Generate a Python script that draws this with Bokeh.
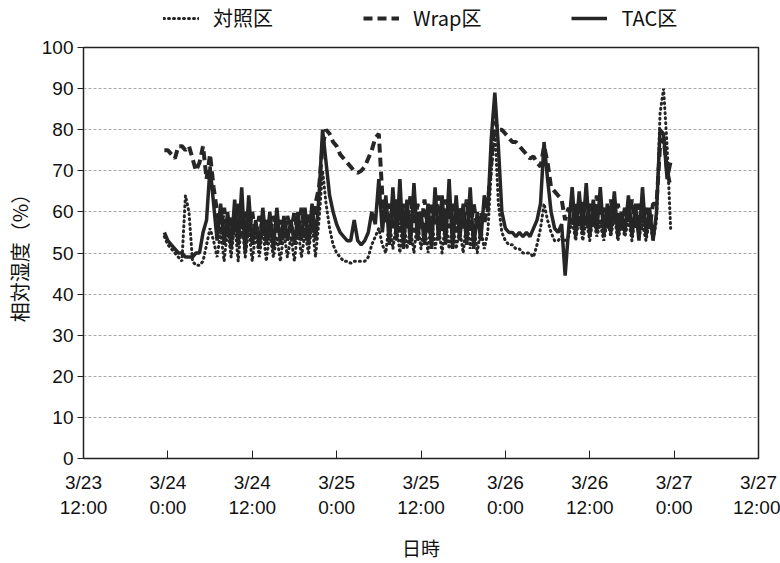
import pandas as pd
from bokeh.plotting import figure
from bokeh.layouts import column
from bokeh.models import Range1d, FixedTicker, LinearAxis, Legend, LegendItem
from bokeh.embed import file_html
from bokeh.resources import INLINE

# ---- data (relative humidity, %, 30-min readings from 3/23 23:30) ----
tac = [
    55, 53, 52, 51, 50, 50, 49, 49, 49, 50, 50, 55,
    58, 71, 62, 53, 62, 52, 60, 51, 63, 52, 66, 50,
    64, 52, 58, 51, 61, 52, 60, 51, 61, 52, 59, 53,
    58, 52, 60, 53, 61, 52, 62, 53, 64, 80, 72, 64,
    60, 57, 55, 54, 53, 53, 58, 53, 52, 53, 55, 60,
    57, 68, 55, 64, 52, 66, 53, 68, 51, 63, 52, 67,
    53, 60, 52, 62, 51, 66, 53, 64, 52, 68, 51, 64,
    53, 62, 52, 66, 51, 60, 53, 64, 60, 78, 89, 76,
    60, 56, 55, 55, 54, 55, 54, 55, 54, 56, 58, 62,
    77, 68, 60, 56, 55, 57, 44.5, 56, 66, 54, 65, 55,
    67, 54, 63, 55, 66, 54, 62, 55, 65, 54, 60, 55,
    64, 54, 62, 53, 66, 54, 61, 53, 60, 80, 79, 68,
    72,
]
wrap = [
    75, 75, 74, 73, 76, 76, 75, 76, 73, 70, 72, 76,
    68, 74, 66, 60, 55, 61, 54, 59, 55, 62, 54, 60,
    55, 60, 54, 59, 55, 58, 54, 59, 55, 58, 54, 59,
    55, 60, 54, 61, 55, 60, 56, 62, 66, 76, 80, 79,
    77, 76, 74, 73, 72, 71, 70, 69.5, 70, 71, 73, 75,
    78, 79, 64, 57, 62, 56, 63, 55, 62, 56, 64, 55,
    62, 56, 63, 55, 62, 57, 64, 55, 63, 56, 62, 55,
    61, 56, 63, 55, 62, 56, 60, 57, 62, 72, 82, 80,
    80, 79, 78, 77, 77, 76, 75, 74, 73, 73.5, 72, 71,
    76, 72, 66, 65, 64, 63, 58, 61, 57, 62, 56, 63,
    57, 62, 56, 64, 57, 61, 56, 63, 57, 62, 56, 61,
    57, 63, 56, 62, 57, 61, 56, 62, 62, 76, 78, 70,
    66,
]
ctrl = [
    54, 52, 51, 50, 49, 48, 64, 60, 48, 47, 47, 48,
    52, 56, 53, 49, 55, 48, 56, 49, 57, 48, 58, 49,
    56, 48, 55, 49, 56, 48, 55, 49, 54, 48, 55, 49,
    54, 48, 56, 49, 55, 50, 57, 49, 58, 70, 62, 56,
    52, 50, 49, 48, 48, 47.5, 48, 48, 48, 48, 49, 52,
    54, 56, 52, 50, 58, 51, 57, 50, 59, 51, 56, 50,
    58, 51, 57, 50, 59, 51, 56, 50, 58, 51, 57, 51,
    56, 50, 58, 51, 57, 50, 56, 51, 55, 70, 80, 62,
    55, 53, 52, 52, 51, 51, 50, 50, 50, 49, 52, 56,
    62, 58, 55, 53, 53, 54, 53, 54, 58, 53, 59, 53,
    58, 53, 59, 54, 57, 53, 58, 54, 59, 53, 57, 54,
    58, 53, 59, 54, 57, 53, 58, 53, 58, 84, 90, 76,
    56,
]
series_start = "2015-03-23 23:30"
sample_freq = "30min"
axis_start = pd.Timestamp("2015-03-23 12:00")

series_names = ["対照区", "Wrap区", "TAC区"]
tick_hours = [0, 12, 24, 36, 48, 60, 72, 84, 96]
tick_dates = ["3/23", "3/24", "3/24", "3/25", "3/25", "3/26", "3/26", "3/27", "3/27"]
tick_times = ["12:00", "0:00", "12:00", "0:00", "12:00", "0:00", "12:00", "0:00", "12:00"]
y_ticks = [0, 10, 20, 30, 40, 50, 60, 70, 80, 90, 100]

times = pd.date_range(series_start, periods=len(tac), freq=sample_freq)
hours = list((times - axis_start) / pd.Timedelta(hours=1))

NUM_FONT = "Liberation Sans Narrow, Liberation Sans, sans-serif"
JP_FONT = "Noto Sans CJK JP"
INK = "#262626"
TXT = "#111111"

STYLES = {
    "ctrl": dict(line_color=INK, line_width=3, line_dash="1 4", line_cap="round"),
    "wrap": dict(line_color=INK, line_width=4, line_dash="9 5"),
    "tac": dict(line_color=INK, line_width=3.5),
}

TOTAL_W, TOTAL_H, LEG_H = 780, 563, 36

# ---------------- main chart ----------------
p = figure(width=TOTAL_W, height=TOTAL_H - LEG_H, x_range=Range1d(0, 96), y_range=Range1d(0, 100),
           output_backend="svg", toolbar_location=None,
           min_border_left=83, min_border_right=22, min_border_top=11, min_border_bottom=60)
p.background_fill_color = "white"
p.border_fill_color = "white"
p.outline_line_color = "#222222"
p.outline_line_width = 1.5

p.xgrid.visible = False
p.ygrid.ticker = FixedTicker(ticks=y_ticks[1:-1])
p.ygrid.grid_line_color = "#a8a8a8"
p.ygrid.grid_line_width = 1
p.ygrid.grid_line_dash = "3 2"

ya = p.yaxis[0]
ya.ticker = FixedTicker(ticks=y_ticks)
ya.major_tick_out = 6
ya.major_tick_in = 0
ya.minor_tick_line_color = None
ya.axis_line_color = "#222222"
ya.major_tick_line_color = "#222222"
ya.major_label_text_font = NUM_FONT
ya.major_label_text_font_size = "19px"
ya.major_label_text_color = TXT
ya.major_label_standoff = 4
ya.axis_label = "相対湿度（%）"
ya.axis_label_text_font = JP_FONT
ya.axis_label_text_font_style = "normal"
ya.axis_label_text_font_size = "20px"
ya.axis_label_text_color = TXT
ya.axis_label_standoff = 5

xa = p.xaxis[0]
xa.ticker = FixedTicker(ticks=tick_hours)
xa.major_label_overrides = {h: d for h, d in zip(tick_hours, tick_dates)}
xa.major_tick_in = 8
xa.major_tick_out = 0
xa.minor_tick_line_color = None
xa.axis_line_color = "#222222"
xa.major_tick_line_color = "#222222"
xa.major_label_text_font = NUM_FONT
xa.major_label_text_font_size = "19px"
xa.major_label_text_color = TXT
xa.major_label_standoff = 13

xa2 = LinearAxis(ticker=FixedTicker(ticks=tick_hours),
                 major_label_overrides={h: t for h, t in zip(tick_hours, tick_times)},
                 axis_line_color=None, major_tick_line_color=None, minor_tick_line_color=None,
                 major_label_text_font=NUM_FONT, major_label_text_font_size="19px",
                 major_label_text_color=TXT, major_label_standoff=-5,
                 axis_label="日時", axis_label_text_font=JP_FONT,
                 axis_label_text_font_style="normal", axis_label_text_font_size="19px",
                 axis_label_text_color=TXT, axis_label_standoff=13)
p.add_layout(xa2, "below")

p.line(hours, tac, **STYLES["tac"])
p.line(hours, wrap, **STYLES["wrap"])
p.line(hours, ctrl, **STYLES["ctrl"])

# ---------------- legend strip (same series, viewed outside their range) ----------------
pl = figure(width=TOTAL_W, height=LEG_H, x_range=Range1d(-100, -99), y_range=Range1d(0, 1),
            output_backend="svg", toolbar_location=None,
            x_axis_location=None, y_axis_location=None,
            min_border_left=0, min_border_right=0, min_border_top=0, min_border_bottom=0)
pl.outline_line_color = None
pl.grid.visible = False
pl.background_fill_color = "white"
pl.border_fill_color = "white"
k_ctrl = pl.line(hours, ctrl, **STYLES["ctrl"])
k_wrap = pl.line(hours, wrap, **STYLES["wrap"])
k_tac = pl.line(hours, tac, **STYLES["tac"])

legend = Legend(items=[LegendItem(label=series_names[0], renderers=[k_ctrl]),
                       LegendItem(label=series_names[1], renderers=[k_wrap]),
                       LegendItem(label=series_names[2], renderers=[k_tac])],
                location=(80, 4), orientation="horizontal",
                glyph_width=36, glyph_height=20, label_standoff=14, label_width=20,
                spacing=90, padding=0, margin=0,
                border_line_alpha=0, background_fill_alpha=0,
                label_text_font=JP_FONT, label_text_font_size="20px",
                label_text_color=TXT)
pl.add_layout(legend)

open("out.html", "w").write(file_html(column(pl, p, spacing=0), INLINE))
